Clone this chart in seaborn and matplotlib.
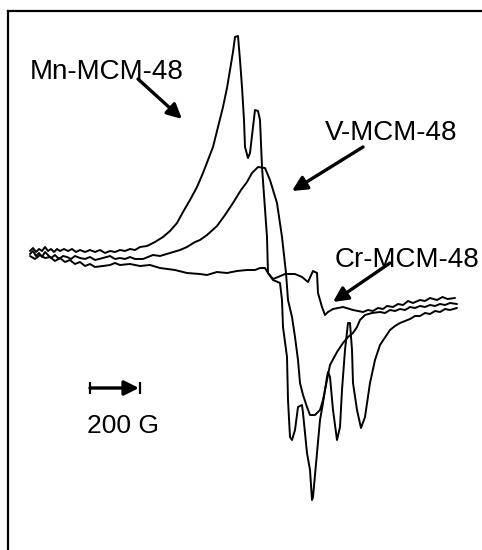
import matplotlib
matplotlib.use("Agg")
import matplotlib.pyplot as plt
import seaborn as sns
import pandas as pd

# ---- data (field in G, signal in arbitrary units) ----
mn_field = [3120, 3132, 3144, 3156, 3168, 3180, 3192, 3204, 3216, 3228,
            3240, 3256, 3272, 3288, 3304, 3320, 3340, 3360, 3380, 3400,
            3420, 3440, 3460, 3480, 3500, 3520, 3540, 3560, 3588,
            3620, 3652, 3680, 3708, 3732, 3760, 3788, 3812, 3832, 3852,
            3872, 3892, 3908, 3920, 3932, 3940, 3952, 3960, 3968, 3976,
            3980, 3992, 4000, 4012, 4020, 4032, 4040, 4048, 4068, 4072,
            4092, 4120, 4128, 4132, 4148, 4152, 4160, 4168, 4180, 4192,
            4208, 4212, 4228, 4240, 4248, 4252, 4268, 4280, 4292, 4308,
            4312, 4320, 4332, 4348, 4360, 4368, 4380, 4392, 4400, 4408,
            4412, 4428, 4444, 4460, 4480, 4500, 4520,
            4560, 4580, 4600, 4620, 4640, 4660, 4680, 4700, 4720, 4740,
            4760, 4780, 4800, 4828]
mn_signal = [2, 5, 1, 4, 2, 6, 2, 4, 1, 4,
             2, 4, 2, 4, 1, 3, 1, 3, 1, 3,
             0, 2, 1, 3, 2, 4, 3, 6, 7,
             11, 16, 22, 30, 41, 53, 66, 80, 93, 106,
             126, 146, 165, 183, 201, 216, 217, 193, 166, 133,
             106, 95, 100, 126, 143, 142, 133, 86, 16, -20,
             -27, -30, -47, -74, -104, -147, -184, -187, -177, -154,
             -152, -160, -200, -217, -247, -244, -200, -167, -150, -124,
             -119, -124, -157, -187, -174, -137, -97, -70, -70, -97,
             -130, -157, -175, -164, -130, -107, -92,
             -77, -73, -70, -68, -66, -63, -63, -60, -61, -58,
             -59, -56, -57, -55]

v_field = [3120, 3132, 3144, 3156, 3168, 3180, 3192, 3204, 3220, 3236,
           3252, 3268, 3284, 3300, 3320, 3340, 3360, 3380, 3412, 3440,
           3460, 3480, 3500, 3520, 3540, 3572, 3612, 3640,
           3680, 3720, 3748, 3780, 3800, 3828, 3868, 3900, 3932, 3964,
           3988, 4008, 4032, 4060, 4080, 4108, 4128, 4144, 4152, 4168,
           4180, 4192, 4200, 4212, 4228, 4240, 4260, 4280, 4292, 4304,
           4320, 4348, 4372, 4392, 4412, 4428, 4440, 4460,
           4488, 4520, 4540, 4560, 4580, 4600, 4620, 4640, 4660, 4680,
           4700, 4720, 4740, 4760, 4780, 4800, 4828]
v_signal = [-1, 2, -3, 0, -4, 1, -2, -5, -2, -6,
            -3, -4, -6, -3, -5, -6, -4, -7, -5, -3,
            -6, -5, -6, -4, -6, -6, -2, -3,
            0, 3, 6, 11, 13, 18, 27, 38, 50, 63,
            71, 80, 86, 85, 73, 50, 16, -20, -47, -64,
            -84, -107, -130, -142, -154, -162, -162, -157, -147, -132,
            -112, -99, -90, -84, -80, -74, -67, -62,
            -60, -59, -60, -57, -58, -56, -57, -54, -55, -53,
            -54, -52, -53, -51, -52, -50, -51]

cr_field = [3120, 3140, 3160, 3180, 3200, 3220, 3240, 3260, 3280, 3300,
            3320, 3340, 3360, 3380, 3412, 3440, 3460, 3480, 3520, 3560,
            3600, 3640, 3700, 3748,
            3800, 3828, 3868, 3908, 3948, 3988, 4020, 4040, 4060, 4072,
            4092, 4112, 4140, 4180, 4208, 4232, 4252, 4268, 4272, 4288,
            4300, 4312, 4332, 4372, 4412,
            4452, 4472, 4492, 4512, 4532, 4548, 4572, 4592, 4612, 4632,
            4652, 4680, 4700, 4720, 4748, 4770, 4790, 4820]
cr_signal = [-3, -6, -2, -5, -4, -8, -5, -9, -7, -11,
             -9, -13, -11, -14, -13, -12, -10, -12, -11, -13,
             -12, -15, -17, -20,
             -21, -22, -19, -20, -18, -17, -17, -15, -15, -20,
             -26, -24, -21, -21, -24, -29, -18, -20, -40, -54,
             -62, -59, -56, -54, -57,
             -59, -57, -58, -55, -56, -53, -54, -51, -52, -48,
             -50, -47, -48, -45, -47, -44, -46, -45]

labels = ["Mn-MCM-48", "V-MCM-48", "Cr-MCM-48"]
scale_label = "200 G"
scale_length = 200  # G

assert len(mn_field) == len(mn_signal)
assert len(v_field) == len(v_signal)
assert len(cr_field) == len(cr_signal)

sns.set_style("white")
plt.rcParams["font.family"] = ["Liberation Sans", "DejaVu Sans"]

W, H = 482, 550
fig = plt.figure(figsize=(W / 100, H / 100), dpi=100)
ax = fig.add_axes([8 / W, 0, 1 - 8 / W, 539.5 / H])

for f, s in [(mn_field, mn_signal), (v_field, v_signal), (cr_field, cr_signal)]:
    df = pd.DataFrame({"field": f, "signal": s})
    sns.lineplot(data=df, x="field", y="signal", sort=False, estimator=None,
                 color="black", lw=1.4, ax=ax)

ax.set_xlim(3032, 4928)
ax.set_ylim(-297, 242.5)
ax.set_xticks([])
ax.set_yticks([])
ax.set_xlabel("")
ax.set_ylabel("")
for side in ["right", "bottom"]:
    ax.spines[side].set_visible(False)
for side in ["left", "top"]:
    ax.spines[side].set_linewidth(1.6)
    ax.spines[side].set_color("black")

# labels
ax.text(3120, 174, labels[0], fontsize=20, va="baseline", ha="left", color="black")
ax.text(4300, 113, labels[1], fontsize=20, va="baseline", ha="left", color="black")
ax.text(4340, -14, labels[2], fontsize=20, va="baseline", ha="left", color="black")

arrow = dict(arrowstyle="-|>", lw=2.4, color="black", mutation_scale=22,
             shrinkA=0, shrinkB=0)
ax.annotate("", xy=(3728, 134), xytext=(3552, 174), arrowprops=arrow)
ax.annotate("", xy=(4168, 62), xytext=(4452, 106), arrowprops=arrow)
ax.annotate("", xy=(4332, -49), xytext=(4560, -10), arrowprops=arrow)

# scale bar
x0, yb = 3360, -135
ax.annotate("", xy=(x0 + scale_length - 4, yb), xytext=(x0, yb),
            arrowprops=dict(arrowstyle="-|>", lw=2.4, color="black",
                            mutation_scale=22, shrinkA=0, shrinkB=0))
ax.vlines([x0, x0 + scale_length], yb - 6, yb + 6, color="black", lw=1.6)
ax.text(3348, -180, scale_label, fontsize=19, va="baseline", ha="left", color="black")

fig.savefig("out.png", dpi=100)
